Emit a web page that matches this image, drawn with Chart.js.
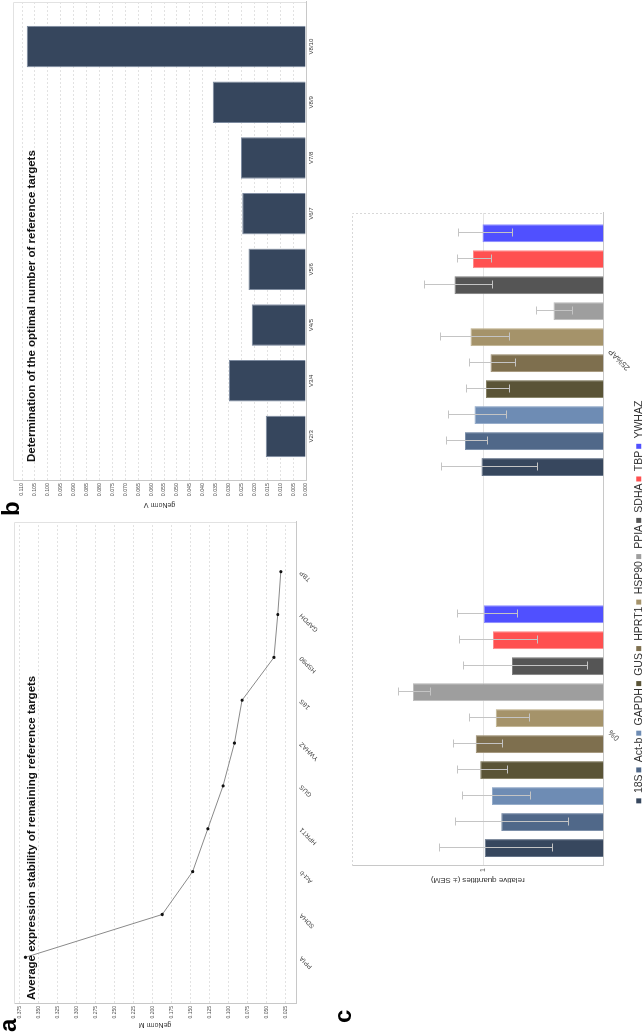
<!DOCTYPE html>
<html>
<head>
<meta charset="utf-8">
<title>geNorm reference targets</title>
<script src="https://cdn.jsdelivr.net/npm/chart.js@4.4.1/dist/chart.umd.min.js"></script>
<style>
  html, body { margin: 0; padding: 0; background: #fff; }
  body { width: 644px; height: 1035px; overflow: hidden; position: relative; }
  /* figure is laid out landscape, then turned a quarter turn left */
  #fig { position: absolute; left: 0; top: 0; width: 1035px; height: 644px; overflow: hidden; background: #fff;
         transform-origin: 0 0; transform: translate(0, 1035px) rotate(-90deg); }
  #fig canvas { position: absolute; }
  .panel { position: absolute; font: bold 24px "Liberation Sans", Arial, sans-serif; line-height: 24px; color: #000; }
</style>
</head>
<body>
<div id="fig">
  <canvas id="chartM" width="517" height="330" style="left:0;top:0"></canvas>
  <canvas id="chartV" width="519" height="330" style="left:517px;top:0"></canvas>
  <canvas id="chartRQ" width="810" height="324" style="left:30px;top:330px"></canvas>
  <div class="panel" style="left:3px;top:-4px">a</div>
  <div class="panel" style="left:519px;top:-1px">b</div>
  <div class="panel" style="left:12px;top:331px">c</div>
</div>
<script>
Chart.defaults.font.family = '"Liberation Sans", Arial, sans-serif';
Chart.defaults.color = '#555';

// a. geNorm M
const mGenes = ['PPIA', 'SDHA', 'Act-b', 'HPRT1', 'GUS', 'YWHAZ', '18S', 'HSP90', 'GAPDH', 'TBP'];
const mValues = [0.367, 0.187, 0.147, 0.127, 0.107, 0.092, 0.082, 0.040, 0.035, 0.031];
const mTicks = [0.025, 0.050, 0.075, 0.100, 0.125, 0.150, 0.175, 0.200, 0.225, 0.250, 0.275, 0.300, 0.325, 0.350, 0.375];

// b. geNorm V
const vPairs = ['V2/3', 'V3/4', 'V4/5', 'V5/6', 'V6/7', 'V7/8', 'V8/9', 'V8/10'];
const vValues = [0.0156, 0.0298, 0.0210, 0.0223, 0.0247, 0.0252, 0.0361, 0.1082];
const vTicks = [0.000, 0.005, 0.010, 0.015, 0.020, 0.025, 0.030, 0.035, 0.040, 0.045, 0.050, 0.055,
                0.060, 0.065, 0.070, 0.075, 0.080, 0.085, 0.090, 0.095, 0.100, 0.105, 0.110];

// c. relative quantities
const conditions = ['0%', '25%AP'];
const rqGenes = ['18S', 'Act-b', 'GAPDH', 'GUS', 'HPRT1', 'HSP90', 'PPIA', 'SDHA', 'TBP', 'YWHAZ'];
const rqColors = ['#37475e', '#506889', '#6e8cb4', '#5a5436', '#7e6f4e', '#a5936a', '#9e9e9e', '#555555', '#ff5050', '#5050ff'];
const rqEdges  = ['#66758a', '#7a8ea9', '#94abc9', '#858063', '#a39579', '#c2b592', '#bdbdbd', '#808080', '#ff8a8a', '#8a8aff'];
const rq0      = [0.990, 0.901, 0.950, 1.017, 1.043, 0.930, 1.497, 0.847, 0.944, 0.996];
const rq0Low   = [0.671, 0.614, 0.763, 0.869, 0.898, 0.769, 1.356, 0.550, 0.733, 0.823];
const rq0High  = [1.286, 1.175, 1.131, 1.161, 1.188, 1.086, 1.635, 1.125, 1.148, 1.165];
const rq25     = [1.009, 1.109, 1.051, 0.983, 0.958, 1.075, 0.667, 1.178, 1.059, 1.003];
const rq25Low  = [0.733, 0.977, 0.874, 0.861, 0.832, 0.861, 0.598, 0.950, 0.953, 0.845];
const rq25High = [1.277, 1.241, 1.222, 1.100, 1.084, 1.284, 0.736, 1.403, 1.161, 1.158];
const rqTicks = [1];

const rqByCond = [rq0, rq25];
const lowByCond = [rq0Low, rq25Low];
const highByCond = [rq0High, rq25High];

// pin an index axis to an exact range (no nice rounding, no bar offset)
function indexRange(lo, hi) {
    return { type: 'linear', offset: false, bounds: 'data', min: lo, max: hi,
             afterDataLimits: s => { s.min = lo; s.max = hi; } };
}

// title sits inside the plot area, near its top
const innerTitle = {
    id: 'innerTitle',
    afterDraw(chart, args, opts) {
        const { ctx, chartArea } = chart;
        ctx.save();
        ctx.font = 'bold 11.5px "Liberation Sans", Arial, sans-serif';
        ctx.fillStyle = '#111';
        ctx.textBaseline = 'middle';
        ctx.fillText(opts.text, chartArea.left + opts.dx, opts.y);
        ctx.restore();
    }
};

// light top + right edge of the plot box
const frame = {
    id: 'frame',
    beforeDatasetsDraw(chart, args, opts) {
        const { ctx, chartArea: a } = chart;
        ctx.save();
        ctx.strokeStyle = opts.color || '#e2e2e2';
        ctx.lineWidth = 1;
        if (opts.dash) ctx.setLineDash(opts.dash);
        ctx.beginPath();
        ctx.moveTo(a.left, a.top + 0.5);
        ctx.lineTo(a.right - 0.5, a.top + 0.5);
        ctx.lineTo(a.right - 0.5, a.bottom);
        ctx.stroke();
        ctx.restore();
    }
};

const errorBars = {
    id: 'errorBars',
    afterDatasetsDraw(chart) {
        const { ctx } = chart;
        const y = chart.scales.y;
        ctx.save();
        ctx.strokeStyle = '#c4c4c4';
        ctx.lineWidth = 1;
        chart.data.datasets.forEach((ds, d) => {
            chart.getDatasetMeta(d).data.forEach((bar, i) => {
                const x = Math.round(bar.x) + 0.5;
                const lo = Math.round(y.getPixelForValue(ds.errLow[i])) + 0.5;
                const hi = Math.round(y.getPixelForValue(ds.errHigh[i])) + 0.5;
                ctx.beginPath();
                ctx.moveTo(x, lo); ctx.lineTo(x, hi);
                ctx.moveTo(x - 4, lo); ctx.lineTo(x + 4, lo);
                ctx.moveTo(x - 4, hi); ctx.lineTo(x + 4, hi);
                ctx.stroke();
            });
        });
        ctx.restore();
    }
};

const axisLine = { color: '#c8c8c8' };

new Chart(document.getElementById('chartM'), {
    type: 'line',
    data: {
        datasets: [{
            data: mGenes.map((g, i) => ({ x: i, y: mValues[i] })),
            borderColor: '#8a8a8a', borderWidth: 1, tension: 0,
            pointRadius: 1.6, pointBackgroundColor: '#111', pointBorderWidth: 0
        }]
    },
    options: {
        responsive: false, animation: false, events: [],
        layout: { padding: { top: 14, right: 3, left: 0, bottom: 0 } },
        plugins: {
            legend: { display: false }, tooltip: { enabled: false },
            innerTitle: { text: 'Average expression stability of remaining reference targets', dx: 4, y: 32 },
            frame: {}
        },
        scales: {
            x: Object.assign(indexRange(-1.09, 10.16), {
                afterBuildTicks: s => { s.ticks = mGenes.map((g, i) => ({ value: i })); },
                afterFit: s => { s.height = 34; },
                grid: { display: false, drawTicks: false }, border: axisLine,
                ticks: { autoSkip: false, minRotation: 45, maxRotation: 45, padding: 2, color: '#444',
                         font: { size: 6.5 }, callback: v => mGenes[v] }
            }),
            y: {
                min: 0.011, max: 0.382, bounds: 'data',
                afterBuildTicks: s => { s.ticks = mTicks.map(v => ({ value: v })); },
                afterFit: s => { s.width = 31; },
                grid: { color: '#e2e2e2', drawTicks: false }, border: { color: '#c8c8c8', dash: [2, 2] },
                ticks: { padding: 2, font: { size: 5 }, callback: v => v.toFixed(3) },
                title: { display: true, text: 'geNorm M', color: '#333', font: { size: 7 }, padding: { top: 6, bottom: 0 } }
            }
        }
    },
    plugins: [innerTitle, frame]
});

new Chart(document.getElementById('chartV'), {
    type: 'bar',
    data: {
        datasets: [{
            data: vPairs.map((p, i) => ({ x: i, y: vValues[i] })),
            backgroundColor: '#36465d', borderColor: '#7d8ba0', borderWidth: 1,
            categoryPercentage: 0.745, barPercentage: 1
        }]
    },
    options: {
        responsive: false, animation: false, events: [],
        layout: { padding: { top: 13, right: 3, left: 0, bottom: 0 } },
        plugins: {
            legend: { display: false }, tooltip: { enabled: false },
            innerTitle: { text: 'Determination of the optimal number of reference targets', dx: 19, y: 32 },
            frame: {}
        },
        scales: {
            x: Object.assign(indexRange(-0.8, 7.8), {
                afterBuildTicks: s => { s.ticks = vPairs.map((p, i) => ({ value: i })); },
                afterFit: s => { s.height = 24; },
                grid: { display: false, drawTicks: false }, border: axisLine,
                ticks: { autoSkip: false, minRotation: 0, maxRotation: 0, padding: 2, color: '#444',
                         font: { size: 6 }, callback: v => vPairs[v] }
            }),
            y: {
                min: 0, max: 0.1135, bounds: 'data',
                afterBuildTicks: s => { s.ticks = vTicks.map(v => ({ value: v })); },
                afterFit: s => { s.width = 37; },
                grid: { color: '#e2e2e2', drawTicks: false }, border: { color: '#c8c8c8', dash: [2, 2] },
                ticks: { padding: 2, font: { size: 5.3 }, callback: v => v.toFixed(3) },
                title: { display: true, text: 'geNorm V', color: '#333', font: { size: 7 }, padding: { top: 9, bottom: 0 } }
            }
        }
    },
    plugins: [innerTitle, frame]
});

new Chart(document.getElementById('chartRQ'), {
    type: 'bar',
    data: {
        datasets: rqGenes.map((g, k) => ({
            label: g,
            data: conditions.map((c, i) => ({ x: i, y: rqByCond[i][k] })),
            errLow: conditions.map((c, i) => lowByCond[i][k]),
            errHigh: conditions.map((c, i) => highByCond[i][k]),
            backgroundColor: rqColors[k], borderColor: rqEdges[k], borderWidth: 1,
            categoryPercentage: 0.682, barPercentage: 0.69
        }))
    },
    options: {
        responsive: false, animation: false, events: [],
        layout: { padding: { top: 22, right: 18, left: 14, bottom: 0 } },
        plugins: {
            tooltip: { enabled: false },
            frame: { color: '#d8d8d8', dash: [2, 2] },
            legend: {
                position: 'bottom',
                labels: {
                    boxWidth: 5, boxHeight: 5, padding: 2, color: '#333', font: { size: 10.5 },
                    generateLabels: ch => Chart.defaults.plugins.legend.labels.generateLabels(ch)
                        .map(l => Object.assign(l, { lineWidth: 0 }))
                }
            }
        },
        scales: {
            x: Object.assign(indexRange(-0.354, 1.36), {
                afterBuildTicks: s => { s.ticks = conditions.map((c, i) => ({ value: i })); },
                afterFit: s => { s.height = 28; },
                grid: { display: false, drawTicks: false }, border: axisLine,
                ticks: { autoSkip: false, minRotation: 45, maxRotation: 45, padding: 3, color: '#444',
                         font: { size: 8 }, callback: v => conditions[v] }
            }),
            y: {
                type: 'logarithmic', min: 0.5, max: 2.126,
                afterBuildTicks: s => { s.ticks = rqTicks.map(v => ({ value: v })); },
                afterFit: s => { s.width = 125; },
                grid: { color: '#e4e4e4', drawTicks: false }, border: axisLine,
                ticks: { padding: 2, font: { size: 7 }, callback: v => String(v) },
                title: { display: true, text: 'relative quantities (± SEM)', color: '#333', font: { size: 8 }, padding: { top: 106, bottom: 0 } }
            }
        }
    },
    plugins: [frame, errorBars]
});
</script>
</body>
</html>
